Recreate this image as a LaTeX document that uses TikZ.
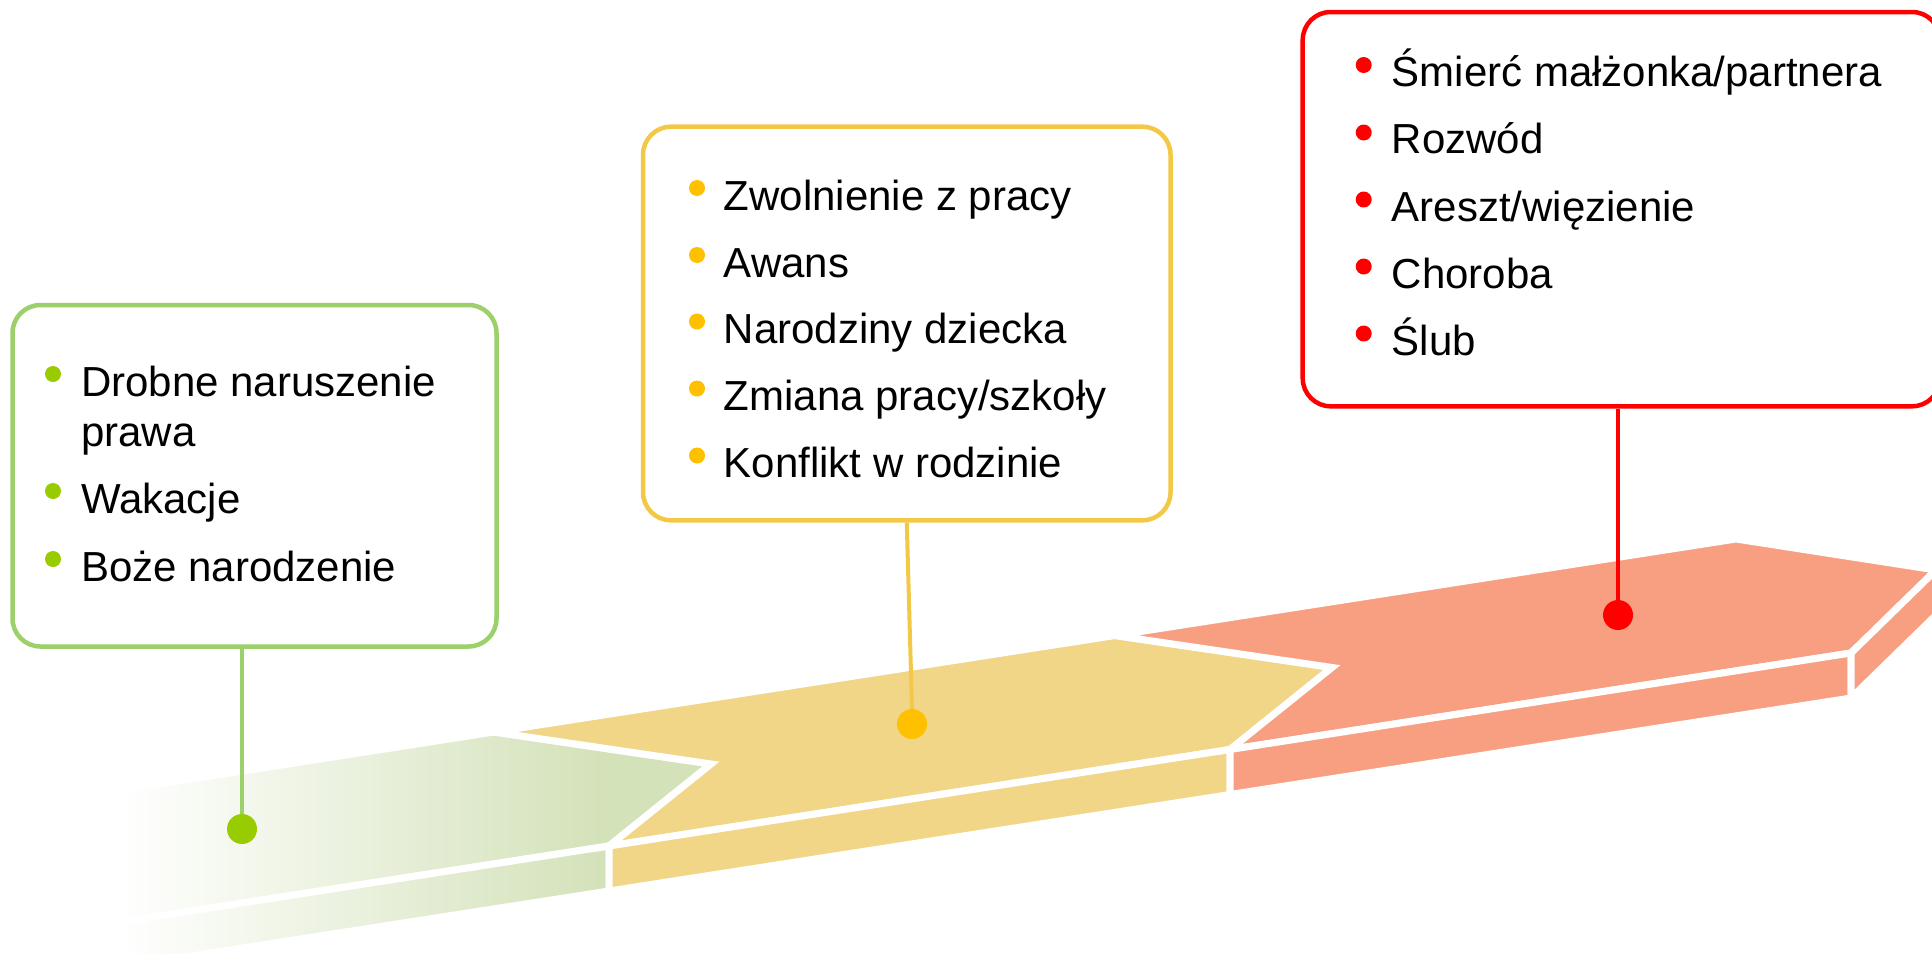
\documentclass[tikz,border=0pt]{standalone}
\usepackage{fontspec}
\setmainfont{Liberation Sans}
\usetikzlibrary{calc}
\definecolor{gface}{HTML}{D4E2BA}
\definecolor{yface}{HTML}{F1D688}
\definecolor{rface}{HTML}{F89F81}
\definecolor{gline}{HTML}{9BD06A}
\definecolor{gdotc}{HTML}{99CC00}
\definecolor{yline}{HTML}{F3C846}
\definecolor{ydotc}{HTML}{FFC000}
\definecolor{rline}{HTML}{FF0000}
\begin{document}
\begin{tikzpicture}[x=1pt,y=-1pt,
  facestroke/.style={draw=white, line width=7pt, line join=miter},
  box/.style={rectangle, rounded corners=28pt, line width=4.5pt, fill=white, inner sep=0pt},
  dot/.style={circle, minimum size=30pt, inner sep=0pt, outer sep=0pt},
  bul/.style={circle, minimum size=16pt, inner sep=0pt},
  txt/.style={anchor=base west, inner sep=0pt, font=\fontsize{42}{50}\selectfont},
  conn/.style={line width=4pt}]
\useasboundingbox (0,0) rectangle (1932,953);
% ---------- geometry of the three 3D chevrons ----------
\def\th{45}
\coordinate (gBL) at (-127,828.5);
\coordinate (gNO) at (90,860.5);
\coordinate (gFL) at (-12,942.5);
\coordinate (gBR) at (494,732);
\coordinate (gTIP) at (711,764);
\coordinate (gFR) at (609,846);
\coordinate (yBR) at (1115,635.5);
\coordinate (yTIP) at (1332,667.5);
\coordinate (yFR) at (1230,749.5);
\coordinate (rBR) at (1736,539);
\coordinate (rTIP) at (1936,570);
\coordinate (rFR) at (1851,653);
% ---------- green segment (faded) ----------
\begin{scope}
  \clip (gBL) -- (gBR) -- (gTIP) -- (gFR) -- (gFL) -- (gNO) -- cycle;
  \shade[left color=white, right color=gface] (120,700) rectangle (600,960);
  \fill[gface] (599,700) rectangle (730,960);
\end{scope}
\draw[facestroke] (gBL) -- (gBR) -- (gTIP) -- (gFR) -- (gFL) -- (gNO) -- cycle;
\begin{scope}
  \clip (gFL) -- (gFR) -- ($(gFR)+(0,\th)$) -- ($(gFL)+(0,\th)$) -- cycle;
  \shade[left color=white, right color=gface] (120,800) rectangle (600,1000);
  \fill[gface] (599,800) rectangle (730,1000);
\end{scope}
\draw[facestroke] (gFL) -- (gFR) -- ($(gFR)+(0,\th)$) -- ($(gFL)+(0,\th)$) -- cycle;
% ---------- yellow segment ----------
\filldraw[facestroke, fill=yface] (gBR) -- (yBR) -- (yTIP) -- (yFR) -- (gFR) -- (gTIP) -- cycle;
\filldraw[facestroke, fill=yface] (gFR) -- (yFR) -- ($(yFR)+(0,\th)$) -- ($(gFR)+(0,\th)$) -- cycle;
% ---------- red segment ----------
\filldraw[facestroke, fill=rface] (yBR) -- (rBR) -- (rTIP) -- (rFR) -- (yFR) -- (yTIP) -- cycle;
\filldraw[facestroke, fill=rface] (yFR) -- (rFR) -- ($(rFR)+(0,\th)$) -- ($(yFR)+(0,\th)$) -- cycle;
\filldraw[facestroke, fill=rface] (rFR) -- (rTIP) -- ($(rTIP)+(0,\th)$) -- ($(rFR)+(0,\th)$) -- cycle;
% ---------- boxes ----------
\node[box, draw=gline, minimum width=484pt, minimum height=341.5pt] (gbox) at (254.5,475.75) {};
\node[box, draw=yline, minimum width=527.5pt, minimum height=393.6pt] (ybox) at (906.75,323.5) {};
\node[box, draw=rline, minimum width=637.3pt, minimum height=394.3pt] (rbox) at (1621.35,209.15) {};
% ---------- dots and connectors ----------
\node[dot, fill=gdotc] (gdot) at (242,829) {};
\node[dot, fill=ydotc] (ydot) at (912,724) {};
\node[dot, fill=rline] (rdot) at (1618,615) {};
\draw[conn, draw=gline] (gbox.south -| gdot) -- (gdot.north);
\draw[conn, draw=yline] (ybox.south) -- (ydot.north);
\draw[conn, draw=rline] (rbox.south -| rdot) -- (rdot.north);
% ---------- green texts ----------
\node[bul, fill=gdotc] (gb1) at (53,374) {};
\node[txt] (gt1) at (81,396) {Drobne naruszenie};
\node[txt] (gt1b) at (81,446) {prawa};
\node[bul, fill=gdotc] (gb2) at (53,491) {};
\node[txt] (gt2) at (81,513) {Wakacje};
\node[bul, fill=gdotc] (gb3) at (53,559) {};
\node[txt] (gt3) at (81,581) {Boże narodzenie};
% ---------- yellow texts ----------
\node[bul, fill=ydotc] (yb1) at (697,188) {};
\node[txt] (yt1) at (723.6,210) {Zwolnienie z pracy};
\node[bul, fill=ydotc] (yb2) at (697,255) {};
\node[txt] (yt2) at (723.6,277) {Awans};
\node[bul, fill=ydotc] (yb3) at (697,321.5) {};
\node[txt] (yt3) at (723.6,343) {Narodziny dziecka};
\node[bul, fill=ydotc] (yb4) at (697,388.5) {};
\node[txt] (yt4) at (723.6,410) {Zmiana pracy/szkoły};
\node[bul, fill=ydotc] (yb5) at (697,455.5) {};
\node[txt] (yt5) at (723.6,477) {Konflikt w rodzinie};
% ---------- red texts ----------
\node[bul, fill=rline] (rb1) at (1363.7,65) {};
\node[txt] (rt1) at (1391.6,86) {Śmierć małżonka/partnera};
\node[bul, fill=rline] (rb2) at (1363.7,132.5) {};
\node[txt] (rt2) at (1391.6,153.5) {Rozwód};
\node[bul, fill=rline] (rb3) at (1363.7,199.5) {};
\node[txt] (rt3) at (1391.6,221) {Areszt/więzienie};
\node[bul, fill=rline] (rb4) at (1363.7,266.5) {};
\node[txt] (rt4) at (1391.6,288.3) {Choroba};
\node[bul, fill=rline] (rb5) at (1363.7,333.5) {};
\node[txt] (rt5) at (1391.6,355) {Ślub};
\end{tikzpicture}
\end{document}
